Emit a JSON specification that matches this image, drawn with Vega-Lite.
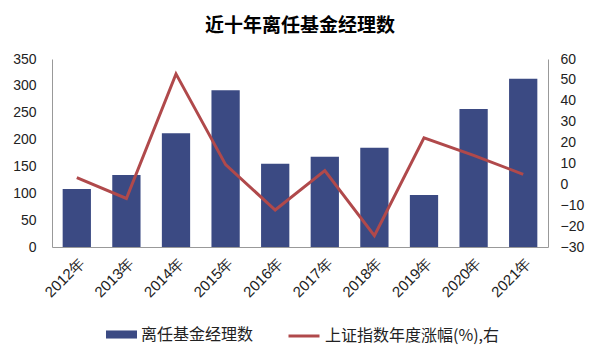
{
  "$schema": "https://vega.github.io/schema/vega-lite/v6.json",
  "width": 496,
  "height": 188,
  "autosize": {"type": "none"},
  "padding": {"left": 52, "top": 59, "right": 52, "bottom": 112},
  "background": "white",
  "title": {"text": "近十年离任基金经理数", "fontSize": 19, "font": "Noto Sans CJK SC", "fontWeight": "bold", "offset": 16, "anchor": "middle", "color": "#000"},
  "config": {"view": {"stroke": null}},
  "data": {"values": [
    {"year": "2012年", "count": 108, "sh": 3.17},
    {"year": "2013年", "count": 134, "sh": -6.75},
    {"year": "2014年", "count": 212, "sh": 52.87},
    {"year": "2015年", "count": 292, "sh": 9.41},
    {"year": "2016年", "count": 155, "sh": -12.31},
    {"year": "2017年", "count": 168, "sh": 6.56},
    {"year": "2018年", "count": 185, "sh": -24.59},
    {"year": "2019年", "count": 97, "sh": 22.30},
    {"year": "2020年", "count": 257, "sh": 13.87},
    {"year": "2021年", "count": 313, "sh": 4.80}
  ]},
  "encoding": {
    "x": {"field": "year", "type": "nominal", "sort": null, "title": null,
      "scale": {"paddingInner": 0.43, "paddingOuter": 0.215},
      "axis": {"labelAngle": -45, "labelFontSize": 15, "labelFont": "Liberation Sans", "labelColor": "#222", "ticks": false, "domainColor": "#999", "labelPadding": 8, "grid": false}}
  },
  "layer": [
    {
      "mark": {"type": "bar"},
      "encoding": {
        "y": {"field": "count", "type": "quantitative", "title": null,
          "scale": {"domain": [0, 350]},
          "axis": {"values": [0, 50, 100, 150, 200, 250, 300, 350], "labelFontSize": 14, "labelFont": "Liberation Sans", "labelColor": "#222", "ticks": false, "grid": false, "domainColor": "#999", "labelPadding": 16}},
        "color": {"datum": "离任基金经理数", "scale": {"range": ["#3B4A83"]},
          "legend": {"orient": "none", "legendX": 54, "legendY": 260, "title": null, "direction": "horizontal", "symbolType": "M-1,-0.26H1V0.26H-1Z", "symbolSize": 961, "symbolStrokeWidth": 0, "labelFontSize": 16, "labelFont": "Noto Sans CJK SC", "labelColor": "#222", "labelLimit": 300}}
      }
    },
    {
      "mark": {"type": "line", "strokeWidth": 3},
      "encoding": {
        "y": {"field": "sh", "type": "quantitative", "title": null,
          "scale": {"domain": [-30, 60]},
          "axis": {"orient": "right", "values": [-30, -20, -10, 0, 10, 20, 30, 40, 50, 60], "labelFontSize": 14, "labelFont": "Liberation Sans", "labelColor": "#222", "ticks": false, "grid": false, "domainColor": "#999", "labelPadding": 12}},
        "color": {"datum": "上证指数年度涨幅(%),右", "scale": {"range": ["#B0494B"]},
          "legend": {"orient": "none", "legendX": 235, "legendY": 260, "title": null, "direction": "horizontal", "symbolType": "stroke", "symbolSize": 961, "symbolStrokeWidth": 3, "labelFontSize": 16, "labelFont": "Noto Sans CJK SC", "labelColor": "#222", "labelLimit": 300}}
      }
    }
  ],
  "resolve": {"scale": {"y": "independent", "color": "independent"}}
}
